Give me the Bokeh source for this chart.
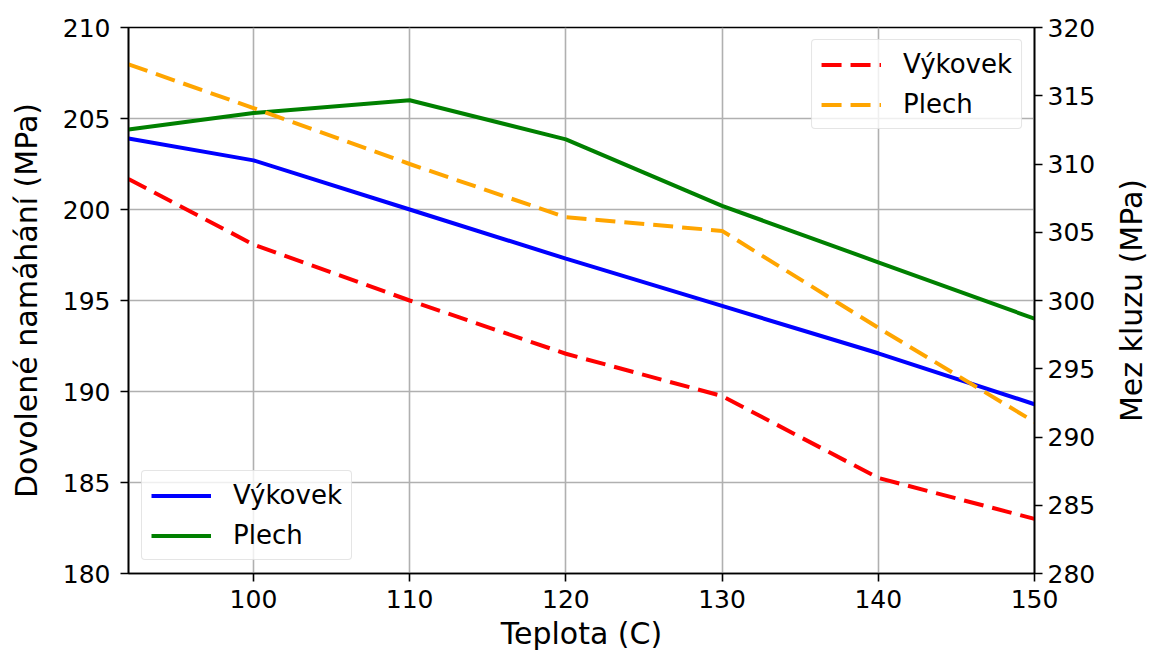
from bokeh.plotting import figure
from bokeh.layouts import row
from bokeh.models import Range1d, LinearAxis, FixedTicker, Legend, LegendItem
from bokeh.embed import file_html
from bokeh.resources import INLINE

# ---- data ----
teplota = [92, 100, 110, 120, 130, 140, 150]
dov_vykovek = [203.9, 202.7, 200.0, 197.3, 194.7, 192.1, 189.3]
dov_plech = [204.4, 205.3, 206.0, 203.85, 200.2, 197.1, 194.0]
mez_vykovek = [308.9, 304.1, 300.0, 296.1, 293.0, 287.0, 284.0]
mez_plech = [317.3, 314.1, 310.0, 306.1, 305.1, 298.0, 291.1]

x_ticks = [100, 110, 120, 130, 140, 150]
left_ticks = [180, 185, 190, 195, 200, 205, 210]
right_ticks = [280, 285, 290, 295, 300, 305, 310, 315, 320]

FONT = "DejaVu Sans"
TICK_SIZE = "25px"
LABEL_SIZE = "30px"
LEGEND_SIZE = "26px"

MAIN_W = 1110
SIDE_W = 45
H = 653
B_TOP = 27
B_BOTTOM = 80

p = figure(width=MAIN_W, height=H,
           x_range=Range1d(92, 150), y_range=Range1d(180, 210),
           output_backend="svg", toolbar_location=None,
           min_border_left=128, min_border_right=MAIN_W - 128 - 906,
           min_border_top=B_TOP, min_border_bottom=B_BOTTOM,
           x_axis_label="Teplota (C)", y_axis_label="Dovolené namáhání (MPa)")
p.extra_y_ranges = {"right": Range1d(280, 320)}
right_axis = LinearAxis(y_range_name="right")
p.add_layout(right_axis, "right")

p.background_fill_color = "white"
p.border_fill_color = "white"
p.outline_line_color = "black"
p.outline_line_width = 1.6

p.xaxis.ticker = FixedTicker(ticks=x_ticks)
p.yaxis[0].ticker = FixedTicker(ticks=left_ticks)
right_axis.ticker = FixedTicker(ticks=right_ticks)

for ax in [p.xaxis[0], p.yaxis[0], right_axis]:
    ax.major_label_text_font = FONT
    ax.major_label_text_font_size = TICK_SIZE
    ax.major_label_text_color = "black"
    ax.axis_label_text_font = FONT
    ax.axis_label_text_font_size = LABEL_SIZE
    ax.axis_label_text_font_style = "normal"
    ax.axis_label_text_color = "black"
    ax.axis_line_color = "black"
    ax.axis_line_width = 1.6
    ax.major_tick_line_color = "black"
    ax.major_tick_line_width = 1.6
    ax.major_tick_out = 8
    ax.major_tick_in = 0
    ax.minor_tick_line_color = None

p.xaxis[0].major_label_standoff = 8
p.xaxis[0].axis_label_standoff = 5
p.yaxis[0].major_label_standoff = 10
p.yaxis[0].axis_label_standoff = 16
right_axis.major_label_standoff = 5

p.xgrid.ticker = FixedTicker(ticks=x_ticks)
p.ygrid.ticker = FixedTicker(ticks=left_ticks)
p.grid.grid_line_color = "#b0b0b0"
p.grid.grid_line_width = 1.6

LW = 4
r_bv = p.line(teplota, dov_vykovek, line_color="blue", line_width=LW)
r_bp = p.line(teplota, dov_plech, line_color="green", line_width=LW)
r_mv = p.line(teplota, mez_vykovek, line_color="red", line_width=LW,
              line_dash="20 9", y_range_name="right")
r_mp = p.line(teplota, mez_plech, line_color="orange", line_width=LW,
              line_dash="20 9", y_range_name="right")


def make_legend(items, loc, margin):
    lg = Legend(items=items, location=loc, margin=margin)
    lg.label_text_font = FONT
    lg.label_text_font_size = LEGEND_SIZE
    lg.label_text_color = "black"
    lg.glyph_width = 60
    lg.glyph_height = 27
    lg.label_height = 27
    lg.label_standoff = 22
    lg.spacing = 10
    lg.padding = 9
    lg.border_line_color = "#cccccc"
    lg.border_line_width = 1.5
    lg.background_fill_color = "white"
    lg.background_fill_alpha = 0.8
    if "border_radius" in Legend.properties():
        lg.border_radius = 4
    return lg


leg1 = make_legend([LegendItem(label="Výkovek", renderers=[r_bv]),
                    LegendItem(label="Plech", renderers=[r_bp])],
                   "bottom_left", 13)
leg2 = make_legend([LegendItem(label="Výkovek", renderers=[r_mv]),
                    LegendItem(label="Plech", renderers=[r_mp])],
                   "top_right", 12)
p.add_layout(leg1, "center")
p.add_layout(leg2, "center")

# narrow side figure that carries the right-hand axis title (reads bottom-to-top)
p2 = figure(width=SIDE_W, height=H, x_range=Range1d(0, 1), y_range=Range1d(280, 320),
            output_backend="svg", toolbar_location=None, x_axis_location=None,
            min_border_left=37, min_border_right=0,
            min_border_top=B_TOP, min_border_bottom=B_BOTTOM,
            y_axis_label="Mez kluzu (MPa)")
p2.outline_line_color = None
p2.grid.visible = False
p2.background_fill_color = "white"
p2.border_fill_color = "white"
ya = p2.yaxis[0]
ya.ticker = FixedTicker(ticks=[])
ya.major_label_text_font_size = "0px"
ya.major_label_standoff = 0
ya.major_tick_out = 0
ya.major_tick_in = 0
ya.minor_tick_line_color = None
ya.axis_line_color = None
ya.axis_label_standoff = 0
ya.axis_label_text_font = FONT
ya.axis_label_text_font_size = LABEL_SIZE
ya.axis_label_text_font_style = "normal"
ya.axis_label_text_color = "black"

layout = row(p, p2)
open("out.html", "w").write(file_html(layout, INLINE))
